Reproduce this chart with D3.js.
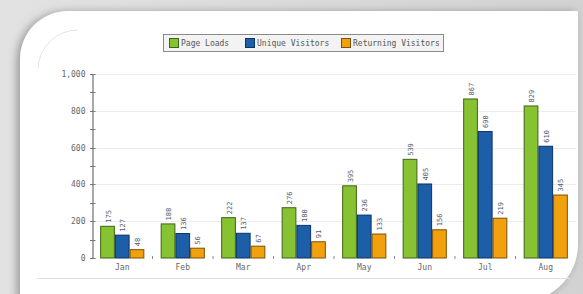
<!DOCTYPE html>
<html>
<head>
<meta charset="utf-8">
<script src="https://cdn.jsdelivr.net/npm/d3@7"></script>
<style>
  html, body { margin: 0; padding: 0; background: #d8d8d8; }
  svg { display: block; }
</style>
</head>
<body>
<script>
// chart data
var months = ["Jan", "Feb", "Mar", "Apr", "May", "Jun", "Jul", "Aug"]
var seriesNames = ["Page Loads", "Unique Visitors", "Returning Visitors"]
var pageLoads = [175, 188, 222, 276, 395, 539, 867, 829]
var uniqueVisitors = [127, 136, 137, 180, 236, 405, 690, 610]
var returningVisitors = [48, 56, 67, 91, 133, 156, 219, 345]
var yTicks = [0, 200, 400, 600, 800, 1000]

var fills = ["#86c232", "#1c5ea8", "#f2a10e"]
var strokes = ["#3f6314", "#0b3366", "#7d5200"]
var allSeries = [pageLoads, uniqueVisitors, returningVisitors]

var svgWidth = 583
var svgHeight = 294

var svg = d3.select("body").append("svg")
    .attr("width", svgWidth)
    .attr("height", svgHeight)

// background + shadowed white panel
var defs = svg.append("defs")
var bgGrad = defs.append("linearGradient").attr("id", "bg")
    .attr("x1", 0).attr("y1", 0).attr("x2", 1).attr("y2", 0)
bgGrad.append("stop").attr("offset", "0%").attr("stop-color", "#e2e2e2")
bgGrad.append("stop").attr("offset", "100%").attr("stop-color", "#d2d2d2")

var shadow = defs.append("filter").attr("id", "shadow")
    .attr("x", "-10%").attr("y", "-10%").attr("width", "120%").attr("height", "120%")
shadow.append("feDropShadow")
    .attr("dx", -3).attr("dy", 1).attr("stdDeviation", 4)
    .attr("flood-color", "#777").attr("flood-opacity", 0.7)

svg.append("rect")
    .attr("width", svgWidth).attr("height", svgHeight)
    .attr("fill", "url(#bg)")

// panel: big round top-left, square top-right, round bottom-right
var px0 = 20, py0 = 11, px1 = 578, py1 = 302, r1 = 48, r2 = 58
svg.append("path")
    .attr("d", "M" + px0 + "," + (py0 + r1)
        + " A" + r1 + "," + r1 + " 0 0 1 " + (px0 + r1) + "," + py0
        + " L" + px1 + "," + py0
        + " L" + px1 + "," + (py1 - r2)
        + " A" + r2 + "," + r2 + " 0 0 1 " + (px1 - r2) + "," + py1
        + " L" + px0 + "," + py1 + " Z")
    .attr("fill", "#ffffff")
    .attr("filter", "url(#shadow)")

// thin inner decorations
svg.append("path")
    .attr("d", "M38,68 A40,40 0 0 1 78,30")
    .attr("fill", "none").attr("stroke", "#e4e4e4").attr("stroke-width", 1)
svg.append("line")
    .attr("x1", 37).attr("x2", 570).attr("y1", 278.5).attr("y2", 278.5)
    .attr("stroke", "#e0e0e0")

// scales
var x = d3.scaleBand()
    .domain(months)
    .range([92, 576])
    .paddingInner(0.27)
    .paddingOuter(0.135)

var xSub = d3.scaleBand()
    .domain(seriesNames)
    .range([0, x.bandwidth()])

var y = d3.scaleLinear()
    .domain([0, 1000])
    .range([258, 74])

var monoFont = "'DejaVu Sans Mono', monospace"

// gridlines
svg.append("g")
    .selectAll("line")
    .data(yTicks.slice(1))
    .join("line")
    .attr("x1", 93).attr("x2", 576)
    .attr("y1", d => Math.round(y(d)) + 0.5)
    .attr("y2", d => Math.round(y(d)) + 0.5)
    .attr("stroke", "#ececec")

// y axis
var yAxis = svg.append("g")
    .attr("transform", "translate(92.5,0)")
    .call(d3.axisLeft(y).tickValues(yTicks).tickSize(0).tickPadding(7)
        .tickFormat(d3.format(",")))
yAxis.select(".domain").attr("stroke", "#555")
yAxis.selectAll("text")
    .attr("fill", "#666")
    .style("font-family", monoFont)
    .style("font-size", "8px")

// minor ticks on the y axis, both sides
svg.append("g")
    .selectAll("line")
    .data(d3.range(0, 1001, 100))
    .join("line")
    .attr("x1", 90).attr("x2", 95.5)
    .attr("y1", d => Math.round(y(d)) + 0.5)
    .attr("y2", d => Math.round(y(d)) + 0.5)
    .attr("stroke", "#777")

// x axis: labels and small separators only
var xAxis = svg.append("g")
    .attr("transform", "translate(0,258)")
    .call(d3.axisBottom(x).tickSize(0).tickPadding(6))
xAxis.select(".domain").remove()
xAxis.selectAll("text")
    .attr("fill", "#666")
    .style("font-family", monoFont)
    .style("font-size", "8px")

svg.append("g")
    .selectAll("line")
    .data(months.slice(1))
    .join("line")
    .attr("x1", d => x(d) - x.step() * x.paddingInner() / 2)
    .attr("x2", d => x(d) - x.step() * x.paddingInner() / 2)
    .attr("y1", 256).attr("y2", 259)
    .attr("stroke", "#888")

// bars
var groups = svg.append("g")
    .selectAll("g")
    .data(months)
    .join("g")
    .attr("transform", d => "translate(" + x(d) + ",0)")

groups.selectAll("rect")
    .data((m, i) => allSeries.map((s, k) => ({ key: seriesNames[k], k: k, v: s[i] })))
    .join("rect")
    .attr("x", d => xSub(d.key) + 0.5)
    .attr("y", d => y(d.v) + 0.5)
    .attr("width", xSub.bandwidth() - 1)
    .attr("height", d => y(0) - y(d.v) - 0.5)
    .attr("fill", d => fills[d.k])
    .attr("stroke", d => strokes[d.k])
    .attr("stroke-width", 1)

// value labels, vertical
groups.selectAll("text.val")
    .data((m, i) => allSeries.map((s, k) => ({ key: seriesNames[k], k: k, v: s[i] })))
    .join("text")
    .attr("class", "val")
    .attr("transform", d => "translate(" + (xSub(d.key) + xSub.bandwidth() / 2 + 3) + "," + (y(d.v) - 3) + ") rotate(-90)")
    .attr("fill", "#555a70")
    .style("font-family", monoFont)
    .style("font-size", "7px")
    .text(d => d.v)

// legend
var legend = svg.append("g").attr("transform", "translate(163,34)")
legend.append("rect")
    .attr("x", 0.5).attr("y", 0.5).attr("width", 280).attr("height", 17)
    .attr("fill", "#f3f3f3").attr("stroke", "#8a8a8a")

var legendX = [6, 82, 178]
var items = legend.selectAll("g.item")
    .data(seriesNames)
    .join("g")
    .attr("class", "item")
    .attr("transform", (d, i) => "translate(" + legendX[i] + ",4)")
items.append("rect")
    .attr("x", 0.5).attr("y", 0.5).attr("width", 9).attr("height", 9)
    .attr("fill", (d, i) => fills[i])
    .attr("stroke", (d, i) => strokes[i])
items.append("text")
    .attr("x", 12).attr("y", 8)
    .attr("fill", "#555")
    .style("font-family", monoFont)
    .style("font-size", "8px")
    .text(d => d)
</script>
</body>
</html>
